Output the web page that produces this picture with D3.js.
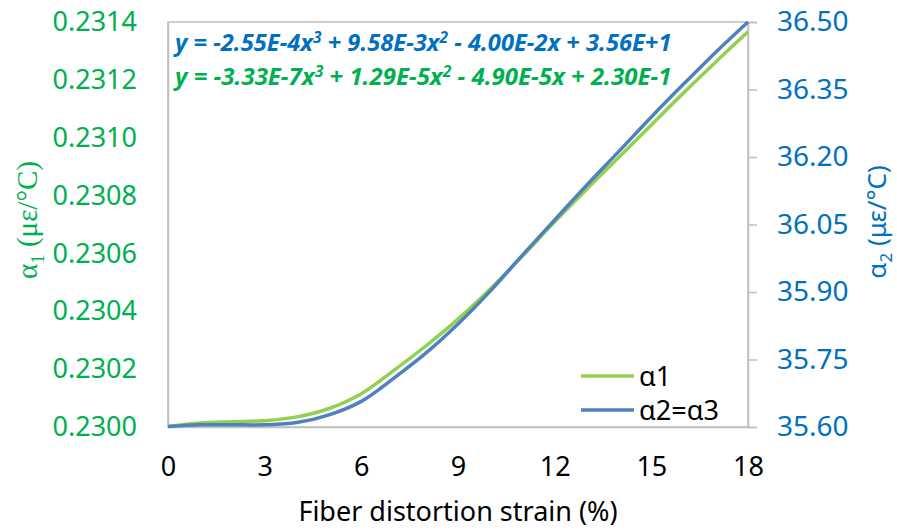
<!DOCTYPE html>
<html>
<head>
<meta charset="utf-8">
<script src="https://cdn.jsdelivr.net/npm/d3@7"></script>
<style>
  body { margin: 0; background: #fff; }
  svg { display: block; font-family: "Noto Sans", sans-serif; }
</style>
</head>
<body>
<div id="chart"></div>
<script>
// values
const strain = [0, 1, 2, 3, 4, 5, 6, 7, 8, 9, 10, 11, 12, 13, 14, 15, 16, 17, 18];
const alpha1 = [0.230002, 0.230014, 0.230018, 0.230022, 0.230035, 0.230064, 0.230115, 0.230195,
                0.230280, 0.230373, 0.230477, 0.230591, 0.230709, 0.230823, 0.230933, 0.231044,
                0.231155, 0.231262, 0.231366];
const alpha2 = [35.601, 35.605, 35.605, 35.605, 35.610, 35.627, 35.657, 35.708, 35.764, 35.829,
                35.902, 35.982, 36.060, 36.138, 36.213, 36.289, 36.362, 36.433, 36.500];
const xTicks = [0, 3, 6, 9, 12, 15, 18];
const leftTicks = [0.2300, 0.2302, 0.2304, 0.2306, 0.2308, 0.2310, 0.2312, 0.2314];
const rightTicks = [35.60, 35.75, 35.90, 36.05, 36.20, 36.35, 36.50];
const legendLabels = ["α1", "α2=α3"];

const width = 897, height = 530;
const margin = {top: 22, right: 149, bottom: 103, left: 168};
const green = "#92D050", blue = "#4F81BD";
const greenText = "#00B050", blueText = "#0070C0";
const grey = "#BFBFBF";

const svg = d3.select("#chart").append("svg")
    .attr("width", width).attr("height", height);

const x = d3.scaleLinear().domain([0, 18]).range([margin.left, width - margin.right]);
const yL = d3.scaleLinear().domain([0.2300, 0.2314]).range([height - margin.bottom, margin.top]);
const yR = d3.scaleLinear().domain([35.60, 36.50]).range([height - margin.bottom, margin.top]);

// plot area border
svg.append("rect")
    .attr("x", x(0)).attr("y", yR(36.5))
    .attr("width", x(18) - x(0)).attr("height", yR(35.6) - yR(36.5))
    .attr("fill", "none").attr("stroke", grey).attr("stroke-width", 1.5);

// bottom axis
const xAxis = svg.append("g")
    .attr("transform", "translate(0," + (height - margin.bottom) + ")")
    .call(d3.axisBottom(x).tickValues(xTicks).tickSize(0).tickPadding(30));
xAxis.select(".domain").attr("stroke", grey).attr("stroke-width", 1.5);
xAxis.selectAll("text").attr("font-size", 27).attr("fill", "#000")
    .style("font-family", "Noto Sans");

// left axis
const leftAxis = svg.append("g")
    .attr("transform", "translate(" + margin.left + ",0)")
    .call(d3.axisLeft(yL).tickValues(leftTicks).tickFormat(d3.format(".4f")).tickSize(0).tickPadding(31));
leftAxis.select(".domain").attr("stroke", grey).attr("stroke-width", 1.5);
leftAxis.selectAll("text").attr("font-size", 27).attr("fill", greenText)
    .style("font-family", "Noto Sans");

// right axis
const rightAxis = svg.append("g")
    .attr("transform", "translate(" + (width - margin.right) + ",0)")
    .call(d3.axisRight(yR).tickValues(rightTicks).tickFormat(d3.format(".2f")).tickSize(9).tickPadding(20));
rightAxis.select(".domain").attr("stroke", grey).attr("stroke-width", 1.5);
rightAxis.selectAll("line").attr("stroke", grey).attr("stroke-width", 1.5);
rightAxis.selectAll("text").attr("font-size", 28).attr("fill", blueText)
    .style("font-family", "Noto Sans");

// curves
const lineL = d3.line().x((d, i) => x(strain[i])).y(d => yL(d)).curve(d3.curveCatmullRom.alpha(0.5));
const lineR = d3.line().x((d, i) => x(strain[i])).y(d => yR(d)).curve(d3.curveCatmullRom.alpha(0.5));

svg.append("path").datum(alpha1).attr("d", lineL)
    .attr("fill", "none").attr("stroke", green).attr("stroke-width", 3.5);
svg.append("path").datum(alpha2).attr("d", lineR)
    .attr("fill", "none").attr("stroke", blue).attr("stroke-width", 3.5);

// trendline equations, sized to the width they take in the reference
function equation(yPos, color, parts) {
    const t = svg.append("text")
        .attr("x", 175).attr("y", yPos)
        .attr("fill", color)
        .attr("font-size", 18)
        .attr("font-weight", "bold")
        .attr("font-style", "italic");
    parts.forEach(p => {
        if (typeof p === "object") {
            t.append("tspan").attr("class", "sup").attr("dy", -8).text(p.s);
            t.append("tspan").attr("dy", 8).text(" ");
        } else {
            t.append("tspan").text(p);
        }
    });
    const fs = 18 * 506 / t.node().getComputedTextLength();
    t.attr("font-size", fs);
    t.selectAll(".sup").attr("font-size", fs * 0.65);
    return t;
}
equation(51, blueText, ["y = -2.55E-4x", {s: "3"}, "+ 9.58E-3x", {s: "2"}, "- 4.00E-2x + 3.56E+1"]);
equation(85, greenText, ["y = -3.33E-7x", {s: "3"}, "+ 1.29E-5x", {s: "2"}, "- 4.90E-5x + 2.30E-1"]);

// legend
const legend = svg.append("g");
[green, blue].forEach((c, i) => {
    const ly = 376 + i * 34;
    legend.append("line")
        .attr("x1", 581).attr("x2", 634).attr("y1", ly).attr("y2", ly)
        .attr("stroke", c).attr("stroke-width", 3.5);
    legend.append("text")
        .attr("x", 639).attr("y", ly + 10)
        .attr("font-size", 27).attr("fill", "#000")
        .text(legendLabels[i]);
});

// axis titles
svg.append("text")
    .attr("x", 458).attr("y", 521)
    .attr("text-anchor", "middle")
    .attr("font-size", 27)
    .text("Fiber distortion strain (%)");

const leftTitle = svg.append("text")
    .attr("transform", "translate(37,220) rotate(-90)")
    .attr("text-anchor", "middle")
    .style("font-family", "'Liberation Serif', 'DejaVu Serif', serif")
    .attr("font-size", 29)
    .attr("fill", greenText);
leftTitle.append("tspan").text("α");
leftTitle.append("tspan").attr("dy", 7).attr("font-size", 19).text("1");
leftTitle.append("tspan").attr("dy", -7).text(" (με/°C)");

const rightTitle = svg.append("text")
    .attr("transform", "translate(886,222) rotate(-90)")
    .attr("text-anchor", "middle")
    .attr("font-size", 26)
    .attr("fill", blueText);
rightTitle.append("tspan").text("α");
rightTitle.append("tspan").attr("dy", 6).attr("font-size", 17).text("2");
rightTitle.append("tspan").attr("dy", -6).text(" (με/°C)");
</script>
</body>
</html>
